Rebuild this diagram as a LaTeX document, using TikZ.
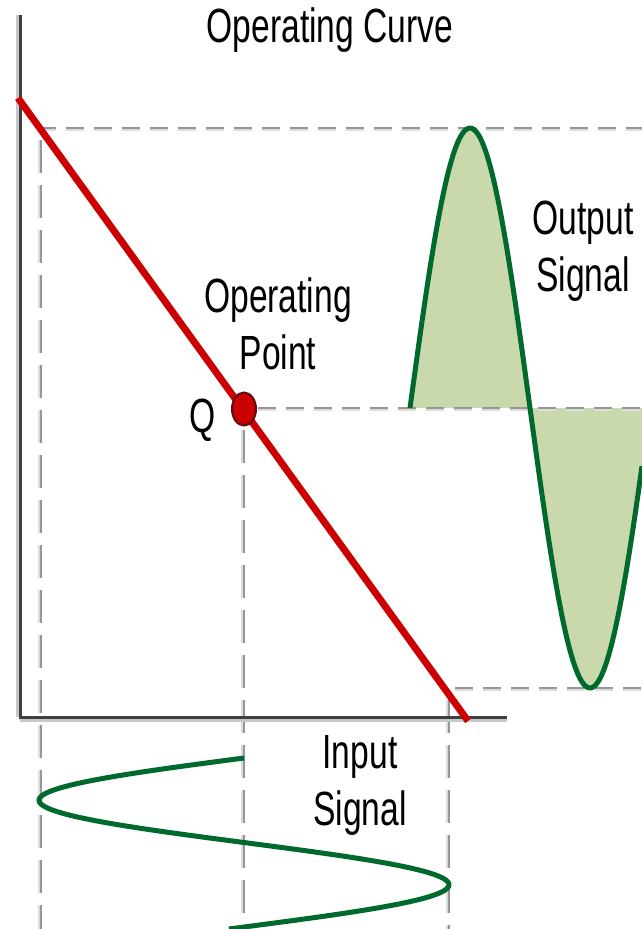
\documentclass[tikz,border=0pt]{standalone}
\usepackage{fontspec}
\usetikzlibrary{shapes.geometric}
\setmainfont[FakeStretch=0.7]{Liberation Sans}
\definecolor{axisgray}{HTML}{404040}
\definecolor{dashgray}{HTML}{969696}
\definecolor{shadowgray}{HTML}{C8C8C8}
\definecolor{dashshadow}{HTML}{DCDCDC}
\definecolor{curvered}{HTML}{CC0000}
\definecolor{qedge}{HTML}{5A1010}
\definecolor{sigreen}{HTML}{006A2E}
\definecolor{sigfill}{HTML}{CAD9AB}
\tikzset{
  axisline/.style={draw=axisgray, line width=3pt},
  axisshadow/.style={draw=shadowgray, line width=3pt},
  hguide/.style={draw=dashgray, line width=2.5pt, dash pattern=on 18pt off 10pt,
    preaction={draw=dashshadow, line width=2.5pt, dash pattern=on 18pt off 10pt, transform canvas={yshift=-2.2pt}}},
  vguide/.style={draw=dashgray, line width=2.5pt, dash pattern=on 33pt off 12pt,
    preaction={draw=dashshadow, line width=2.5pt, dash pattern=on 33pt off 12pt, transform canvas={xshift=-2.2pt}}},
  opcurve/.style={draw=curvered, line width=7pt},
  signal/.style={draw=sigreen, line width=5pt, line join=round},
  label/.style={inner sep=0pt, align=center, font=\fontsize{48}{57}\selectfont},
  qpoint/.style={ellipse, minimum width=24pt, minimum height=33pt, inner sep=0pt, fill=curvered, draw=qedge, line width=2pt},
}
\begin{document}
\begin{tikzpicture}[x=1pt, y=-1pt]
\useasboundingbox (0,0) rectangle (642,929);
\fill[white] (0,0) rectangle (642,929);

% output signal fill
\fill[sigfill] (410,408) -- plot[domain=410:642, samples=120] (\x, {408 - 280*sin((\x-410)*1.5)}) -- (642,408) -- cycle;

% guide lines
\coordinate (topL) at (38,128);
\coordinate (topR) at (642,128);
\coordinate (midL) at (258,408);
\coordinate (midR) at (642,408);
\coordinate (botL) at (455,688);
\coordinate (botR) at (642,688);
\coordinate (qdown) at (244,430);
\coordinate (qbot) at (244,929);
\draw[hguide] (topL) -- (topR);
\draw[hguide] (midL) -- (midR);
\draw[hguide] (botL) -- (botR);
\draw[vguide] (41,140) -- (41,929);
\draw[vguide] (449,700) -- (449,929);
\draw[vguide] (qdown) -- (qbot);

% axes
\draw[axisshadow] (20,720) -- (507,720);
\draw[axisshadow] (17,15) -- (17,717);
\draw[axisline] (20,15) -- (20,717) -- (507,717);

% operating curve
\coordinate (ocA) at (18,98);
\coordinate (ocB) at (468,721);
\draw[opcurve] (ocA) -- (ocB);
\node[qpoint] (Q) at (244,409) {};

% output signal stroke
\draw[signal] plot[domain=410:642, samples=120] (\x, {408 - 280*sin((\x-410)*1.5)});

% input signal
\draw[signal] plot[domain=758:929, samples=120] ({244 - 205*sin((\x-758)*2.13)}, \x);

% labels
\node[label] (title) at (330,30) {Operating Curve};
\node[label] (oplabel) at (278,324) {Operating\\Point};
\node[label] (qlabel) at (203,420) {Q};
\node[label] (outlabel) at (583,251) {Output\\Signal};
\node[label] (inlabel) at (360,785) {Input\\Signal};
\end{tikzpicture}
\end{document}
